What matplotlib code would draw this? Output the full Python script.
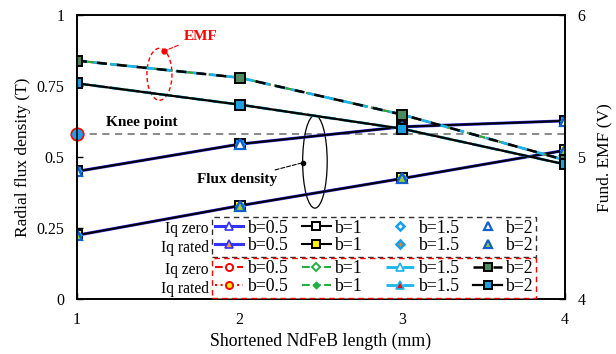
import matplotlib
matplotlib.use('Agg')
import matplotlib.pyplot as plt
from matplotlib.patches import Ellipse

plt.rcParams['font.family'] = ['Liberation Serif', 'DejaVu Serif']

# ---------------- data ----------------
x_mm = [1, 2, 3, 4]
b_labels = ['b=0.5', 'b=1', 'b=1.5', 'b=2']
flux_iq_zero = [0.45, 0.546, 0.607, 0.628]      # T
flux_iq_rated = [0.225, 0.329, 0.425, 0.524]    # T
emf_iq_zero = [5.68, 5.56, 5.30, 4.98]          # V
emf_iq_rated = [5.52, 5.37, 5.20, 4.95]         # V
knee_x = [1]
knee_y = [0.58]
left_ticks = [0, 0.25, 0.5, 0.75, 1]
left_ticklabels = ['0', '0.25', '0.5', '0.75', '1']
right_ticks = [4, 5, 6]
x_ticks = [1, 2, 3, 4]

# ---------------- figure ----------------
fig = plt.figure(figsize=(6.16, 3.54), dpi=100)
ax = fig.add_axes([0.125, 0.155, 0.792, 0.802])
ax2 = ax.twinx()

ax.set_xlim(1, 4)
ax.set_ylim(0, 1)
ax2.set_ylim(4, 6)
ax.set_xticks(x_ticks)
ax.set_xticklabels([str(v) for v in x_ticks])
ax.set_yticks(left_ticks)
ax.set_yticklabels(left_ticklabels)
ax2.set_yticks(right_ticks)
ax2.set_yticklabels([str(v) for v in right_ticks])

for a in (ax, ax2):
    for s in a.spines.values():
        s.set_linewidth(1.2)
    a.tick_params(direction='in', length=4, width=1, labelsize=11.5, pad=9)

ax.set_xlabel('Shortened NdFeB length (mm)', fontsize=12.8, labelpad=4)
ax.set_ylabel('Radial flux density (T)', fontsize=12.5, labelpad=4)
ax2.set_ylabel('Fund. EMF (V)', fontsize=12.5, labelpad=8)

# knee point
ax.axhline(knee_y[0], color='#808080', ls=(0, (4, 3)), lw=1.3, zorder=1)
ax.plot(knee_x, knee_y, 'o', ms=9, mfc='#1ea0e8', mec='red', mew=1.2,
        clip_on=False, zorder=10)

blue = '#3434ff'
ms = 6

# ---------------- flux density (left axis) ----------------
fz05, = ax.plot(x_mm, flux_iq_zero, '-', color=blue, lw=2.2, marker='^', ms=ms,
                mfc='white', mec=blue, mew=1.2, zorder=3)
fr05, = ax.plot(x_mm, flux_iq_rated, '-', color=blue, lw=2.2, marker='^', ms=ms,
                mfc='#f0a030', mec=blue, mew=1.2, zorder=3)
fz1, = ax.plot(x_mm, flux_iq_zero, '-', color='black', lw=1.5, marker='s', ms=7,
               mfc='#1e90ff', mec='black', mew=1.4, zorder=4)
fr1, = ax.plot(x_mm, flux_iq_rated, '-', color='black', lw=1.5, marker='s', ms=7,
               mfc='#ffee00', mec='black', mew=1.4, zorder=4)
fz15, = ax.plot(x_mm, flux_iq_zero, ls='none', marker='D', ms=4.5,
                mfc='white', mec='#10a0f0', mew=1.8, zorder=5)
fr15, = ax.plot(x_mm, flux_iq_rated, ls='none', marker='D', ms=4.5,
                mfc='#f08020', mec='#10a0f0', mew=1.8, zorder=5)
fz2, = ax.plot(x_mm, flux_iq_zero, ls='none', marker='^', ms=6.5,
               mfc='white', mec='#1060d0', mew=1.6, zorder=6)
fr2, = ax.plot(x_mm, flux_iq_rated, ls='none', marker='^', ms=6.5,
               mfc='#9acd32', mec='#1060d0', mew=1.6, zorder=6)

# ---------------- EMF (right axis) ----------------
ez05, = ax2.plot(x_mm, emf_iq_zero, '--', color='red', lw=1.5, marker='o', ms=ms,
                 mfc='white', mec='red', mew=1.4)
er05, = ax2.plot(x_mm, emf_iq_rated, ':', color='red', lw=1.5, marker='o', ms=ms,
                 mfc='#ffee00', mec='red', mew=1.4)
ez1, = ax2.plot(x_mm, emf_iq_zero, '--', color='#20b040', lw=1.5, marker='D', ms=4.5,
                mfc='white', mec='#20b040', mew=1.4)
er1, = ax2.plot(x_mm, emf_iq_rated, '--', color='#20b040', lw=1.5, marker='D', ms=4,
                mfc='#20b040', mec='#20b040', mew=1.0)
ez15, = ax2.plot(x_mm, emf_iq_zero, color='#1ab4e8', lw=2.0, ls=(0, (4, 2)), marker='^', ms=ms,
                 mfc='white', mec='#1ab4e8', mew=1.2)
er15, = ax2.plot(x_mm, emf_iq_rated, color='#1ab4e8', lw=2.0, ls=(0, (4, 2)), marker='^', ms=ms,
                 mfc='red', mec='#1ab4e8', mew=1.2)
ez2, = ax2.plot(x_mm, emf_iq_zero, color='black', lw=1.8, ls=(0, (4, 4)), marker='s', ms=7,
                mfc='#4f8a5f', mec='black', mew=1.4)
er2, = ax2.plot(x_mm, emf_iq_rated, '-', color='black', lw=1.6, marker='s', ms=7,
                mfc='#1ea0e0', mec='black', mew=1.4)

# ---------------- annotations ----------------
ax.add_patch(Ellipse((1.507, 0.792), 0.154, 0.183, fill=False, edgecolor='red',
                     ls=(0, (3, 2)), lw=1.0, zorder=2))
ax.annotate('EMF', xy=(1.537, 0.874), xytext=(1.655, 0.926), color='red',
            fontsize=11, fontweight='bold', va='center', ha='left',
            arrowprops=dict(arrowstyle='-', ls='--', color='red', lw=0.8,
                            shrinkA=2, shrinkB=0))
ax.plot([1.537], [0.874], 'o', color='red', ms=3.5, zorder=7)

ax.text(1.18, 0.621, 'Knee point', fontsize=11, fontweight='bold',
        ha='left', va='center')

ax.add_patch(Ellipse((2.463, 0.484), 0.151, 0.327, fill=False, edgecolor='black',
                     lw=0.9, zorder=2))
ax.annotate('Flux density', xy=(2.391, 0.481), xytext=(2.23, 0.42),
            fontsize=11, fontweight='bold', va='center', ha='right',
            arrowprops=dict(arrowstyle='-', ls='--', color='black', lw=0.8,
                            shrinkA=2, shrinkB=0))
ax.plot([2.391], [0.481], 'o', color='black', ms=3, zorder=7)

# ---------------- legends ----------------
leg_kw = dict(ncol=4, fontsize=12.8, handlelength=1.6, handletextpad=0.2,
              columnspacing=0.82, labelspacing=0.05, borderpad=0.15,
              borderaxespad=0, fancybox=False, framealpha=1, loc='lower left',
              markerscale=0.85, bbox_transform=ax.transAxes)
labels = []
for lab in b_labels:
    labels += [lab, lab]
labels = [l + ('  ' if l == 'b=1' else '') for l in labels]

# legend uses the same style as the plotted b=1 Iq-zero flux series, but with open square
leg1 = ax2.legend(handles=[fz05, fr05, fz1, fr1, fz15, fr15, fz2, fr2], labels=labels,
                  bbox_to_anchor=(0.277, 0.148), edgecolor='#303030', **leg_kw)
leg1.get_frame().set_linestyle((0, (4, 3)))
leg1.get_frame().set_linewidth(1.0)
leg1.legend_handles[2].set_markerfacecolor('white')
ax2.add_artist(leg1)
leg2 = ax2.legend(handles=[ez05, er05, ez1, er1, ez15, er15, ez2, er2], labels=labels,
                  bbox_to_anchor=(0.277, 0.004), edgecolor='red', **leg_kw)
leg2.get_frame().set_linestyle((0, (4, 3)))
leg2.get_frame().set_linewidth(1.0)

row_labels = ['Iq zero', 'Iq rated', 'Iq zero', 'Iq rated']
row_y = [0.246, 0.180, 0.102, 0.035]
for lab, yy in zip(row_labels, row_y):
    ax2.text(0.270, yy, lab, transform=ax.transAxes, ha='right', va='center',
             fontsize=11.2)

fig.savefig('out.png', dpi=100)
